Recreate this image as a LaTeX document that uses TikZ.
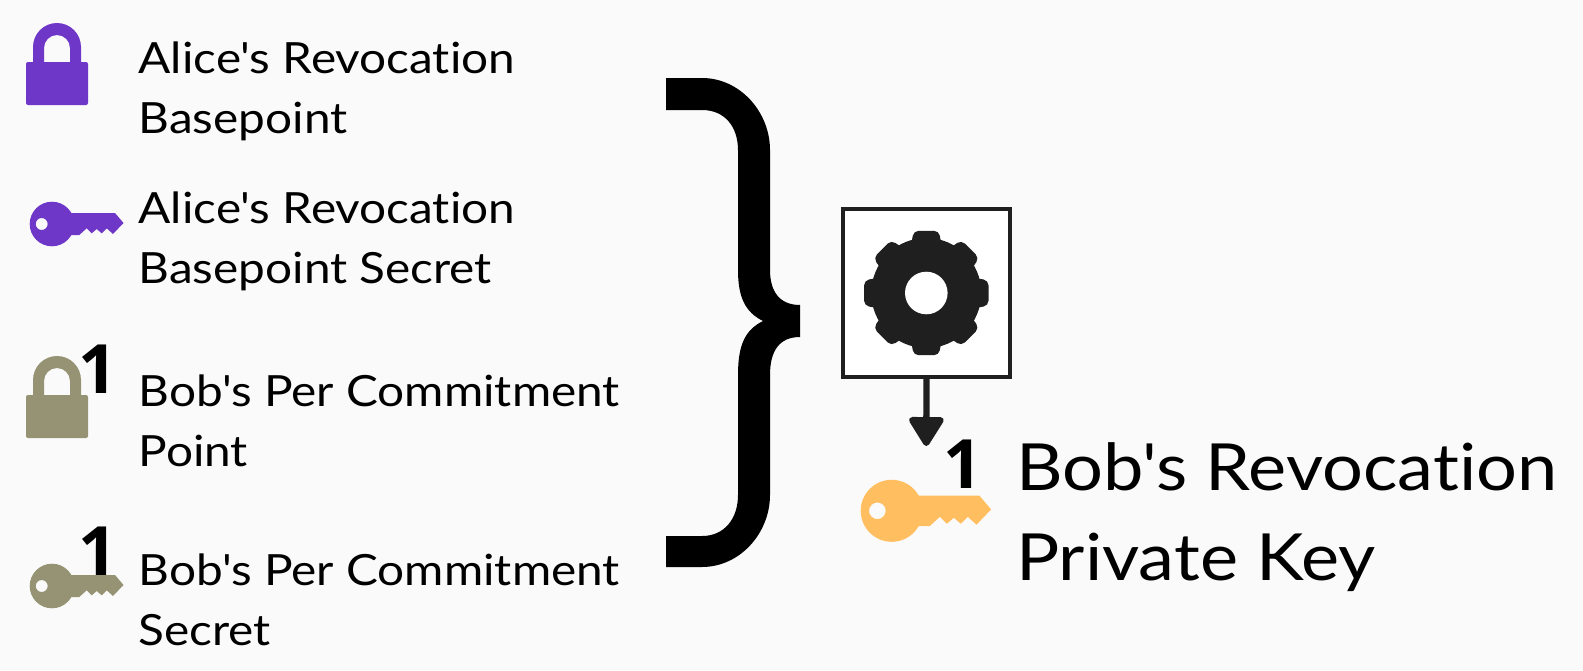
\documentclass[tikz,border=0pt]{standalone}
\usepackage{fontspec}
\newfontfamily\lblfont{Lato}[Ligatures=NoCommon,FakeStretch=1.11]
\newfontfamily\onefont{Open Sans}
\usetikzlibrary{arrows.meta}
\definecolor{bgc}{HTML}{FAFAFA}
\definecolor{purplec}{HTML}{6F37C8}
\definecolor{olivec}{HTML}{959374}
\definecolor{orangec}{HTML}{FFBF60}
\definecolor{darkc}{HTML}{1F1F1F}
\tikzset{
  x=1pt,y=-1pt,
  keyicon/.pic={
    \fill[pic actions,even odd rule] (0,0) circle[radius=22.3] (-10.3,0) circle[radius=6];
    \fill[pic actions] (15,-11) -- (63,-11) -- (71.5,-1) -- (61,10) -- (54.7,4.3) -- (49.7,9.3) -- (44.7,5) -- (39.7,9.3) -- (34.7,4.3) -- (27.3,11) -- (15,11) -- cycle;
  },
  lockicon/.pic={
    \fill[pic actions,rounded corners=2] (-31,0) rectangle (31,43);
    \fill[pic actions] (-24,1) -- (-24,-15) arc[start angle=180,end angle=360,radius=24] -- (24,1) -- (13,1) -- (13,-14) arc[start angle=360,end angle=180,radius=13] -- (-13,1) -- cycle;
  },
  small/.style={anchor=base west,align=left,inner sep=0pt,font=\lblfont\fontsize{43}{60}\selectfont},
  big/.style={anchor=base west,align=left,inner sep=0pt,font=\lblfont\fontsize{65}{90}\selectfont},
  digit/.style={anchor=base,inner sep=0pt,font=\onefont\bfseries\fontsize{68}{68}\selectfont},
}
\begin{document}
\begin{tikzpicture}
\fill[bgc] (0,0) rectangle (1583,670);
\useasboundingbox (0,0) rectangle (1583,670);
% icons
\pic[fill=purplec] at (57,62) {lockicon};
\pic[fill=purplec] at (52,224) {keyicon};
\pic[fill=olivec] at (57,395) {lockicon};
\pic[fill=olivec] at (52,586) {keyicon};
\pic[fill=orangec,scale=1.39] at (891.7,510.8) {keyicon};
% superscripts
\node[digit] (d1) at (98,393) {1};
\node[digit] (d2) at (98,575) {1};
\node[digit] (d3) at (962.5,488) {1};
% labels
\node[small] (t1) at (138.5,133) {Alice's Revocation\\Basepoint};
\node[small] (t2) at (138.5,283) {Alice's Revocation\\Basepoint Secret};
\node[small] (t3) at (138.5,466) {Bob's Per Commitment\\Point};
\node[small] (t4) at (138.5,645) {Bob's Per Commitment\\Secret};
\node[big] (t5) at (1016,580) {Bob's Revocation\\Private Key};
% brace
\fill[black] (666,78) -- (702,78) .. controls (740,78) and (770,112) .. (770,150)
  -- (770,270) .. controls (770,292) and (780,305) .. (800,305)
  -- (800,337) .. controls (780,337) and (770,350) .. (770,375)
  -- (770,495) .. controls (770,533) and (740,567) .. (702,567)
  -- (666,567) -- (666,536) -- (702,536) .. controls (725,536) and (738,518) .. (738,495)
  -- (738,375) .. controls (738,345) and (745,330) .. (763,321)
  .. controls (745,312) and (738,297) .. (738,270)
  -- (738,150) .. controls (738,127) and (725,110) .. (702,110)
  -- (666,110) -- cycle;
% process box
\node[draw=darkc,fill=white,line width=4pt,minimum size=167.6pt,inner sep=0pt] (box) at (926.5,293) {};
\begin{scope}[shift={(926.3,293)}]
\fill[darkc] (0,0) circle[radius=55];
\foreach \a in {0,45,...,315} {
  \fill[darkc,rounded corners=5] (\a-19:48) -- (\a-11.5:63.5) -- (\a+11.5:63.5) -- (\a+19:48) -- cycle;
}
\fill[white] (0,0) circle[radius=21.3];
\end{scope}
\coordinate (tipc) at (926.3,446);
\draw[darkc,line width=6.3pt,-{Triangle[width=38pt,length=32pt,round]}] (box.south) -- (tipc);
\end{tikzpicture}
\end{document}
